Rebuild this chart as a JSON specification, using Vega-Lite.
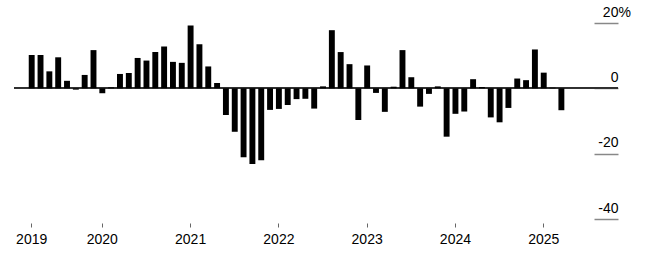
{
  "$schema": "https://vega.github.io/schema/vega-lite/v6.json",
  "width": 604,
  "height": 196,
  "autosize": {"type": "none"},
  "padding": {"left": 14, "top": 23, "right": 33, "bottom": 44},
  "background": "white",
  "config": {"view": {"stroke": null}, "font": "Liberation Sans"},
  "data": {
    "values": [
      {"p": "2019-03", "v": 10.2}, {"p": "2019-04", "v": 10.2}, {"p": "2019-05", "v": 5.2}, {"p": "2019-06", "v": 9.5},
      {"p": "2019-07", "v": 2.3}, {"p": "2019-08", "v": -0.4}, {"p": "2019-09", "v": 4.1}, {"p": "2019-10", "v": 11.7},
      {"p": "2020-01", "v": -1.5}, {"p": "2020-02", "v": 0.3}, {"p": "2020-03", "v": 4.4}, {"p": "2020-04", "v": 4.7},
      {"p": "2020-05", "v": 9.3}, {"p": "2020-06", "v": 8.5}, {"p": "2020-07", "v": 11.1}, {"p": "2020-08", "v": 12.8},
      {"p": "2020-09", "v": 8.1}, {"p": "2020-10", "v": 7.8},
      {"p": "2021-01", "v": 19.2}, {"p": "2021-02", "v": 13.5}, {"p": "2021-03", "v": 6.7}, {"p": "2021-04", "v": 1.6},
      {"p": "2021-05", "v": -8.2}, {"p": "2021-06", "v": -13.3}, {"p": "2021-07", "v": -21.1}, {"p": "2021-08", "v": -23.2},
      {"p": "2021-09", "v": -22.0}, {"p": "2021-10", "v": -6.6},
      {"p": "2022-01", "v": -6.3}, {"p": "2022-02", "v": -5.1}, {"p": "2022-03", "v": -3.3}, {"p": "2022-04", "v": -3.2},
      {"p": "2022-05", "v": -6.2}, {"p": "2022-06", "v": 0.6}, {"p": "2022-07", "v": 17.8}, {"p": "2022-08", "v": 11.1},
      {"p": "2022-09", "v": 7.4}, {"p": "2022-10", "v": -9.7},
      {"p": "2023-01", "v": 7.0}, {"p": "2023-02", "v": -1.4}, {"p": "2023-03", "v": -7.2}, {"p": "2023-04", "v": 0.5},
      {"p": "2023-05", "v": 11.7}, {"p": "2023-06", "v": 3.4}, {"p": "2023-07", "v": -5.6}, {"p": "2023-08", "v": -1.7},
      {"p": "2023-09", "v": 0.6}, {"p": "2023-10", "v": -14.8},
      {"p": "2024-01", "v": -7.8}, {"p": "2024-02", "v": -7.1}, {"p": "2024-03", "v": 2.8}, {"p": "2024-04", "v": 0.4},
      {"p": "2024-05", "v": -8.9}, {"p": "2024-06", "v": -10.4}, {"p": "2024-07", "v": -6.0}, {"p": "2024-08", "v": 3.0},
      {"p": "2024-09", "v": 2.5}, {"p": "2024-10", "v": 11.9},
      {"p": "2025-01", "v": 4.8}, {"p": "2025-02", "v": 0.2}, {"p": "2025-03", "v": -6.7}
    ]
  },
  "layer": [
    {
      "mark": {"type": "rule", "color": "#333333", "strokeWidth": 1},
      "encoding": {
        "y": {
          "datum": 0,
          "type": "quantitative",
          "scale": {"domain": [-40, 20], "nice": false, "zero": false},
          "axis": {
            "orient": "right",
            "title": null,
            "domain": false,
            "grid": false,
            "values": [20, 0, -20, -40],
            "labelExpr": "datum.value == 20 ? '20%' : toString(datum.value)",
            "ticks": true,
            "tickSize": 24,
            "tickColor": "#888888",
            "tickWidth": 1.5,
            "offset": -24,
            "labelAlign": "right",
            "labelBaseline": "alphabetic",
            "labelOffset": -7,
            "labelPadding": {"condition": {"test": "datum.value == 20", "value": 12.4}, "value": 0},
            "labelFont": "Liberation Sans",
            "labelFontSize": 14,
            "labelColor": "#000000"
          }
        }
      }
    },
    {
      "mark": {"type": "bar", "color": "#000000"},
      "encoding": {
        "x": {
          "field": "p",
          "type": "ordinal",
          "sort": "ascending",
          "scale": {
            "range": [14.74, 550.34],
            "paddingInner": 0.33,
            "paddingOuter": 0
          },
          "axis": {
            "orient": "bottom",
            "title": null,
            "domain": false,
            "grid": false,
            "values": ["2019-03", "2020-01", "2021-01", "2022-01", "2023-01", "2024-01", "2025-01"],
            "labelExpr": "substring(datum.value, 0, 4)",
            "labelAngle": 0,
            "labelOverlap": false,
            "ticks": true,
            "tickSize": 4,
            "tickColor": "#666666",
            "tickWidth": 1,
            "offset": 4,
            "labelPadding": 5,
            "labelFont": "Liberation Sans",
            "labelFontSize": 14,
            "labelColor": "#000000"
          }
        },
        "y": {
          "field": "v",
          "type": "quantitative",
          "scale": {"domain": [-40, 20], "nice": false, "zero": false},
          "axis": {
            "orient": "right",
            "title": null,
            "domain": false,
            "grid": false,
            "values": [20, 0, -20, -40],
            "labelExpr": "datum.value == 20 ? '20%' : toString(datum.value)",
            "ticks": true,
            "tickSize": 24,
            "tickColor": "#888888",
            "tickWidth": 1.5,
            "offset": -24,
            "labelAlign": "right",
            "labelBaseline": "alphabetic",
            "labelOffset": -7,
            "labelPadding": {"condition": {"test": "datum.value == 20", "value": 12.4}, "value": 0},
            "labelFont": "Liberation Sans",
            "labelFontSize": 14,
            "labelColor": "#000000"
          }
        }
      }
    }
  ]
}
